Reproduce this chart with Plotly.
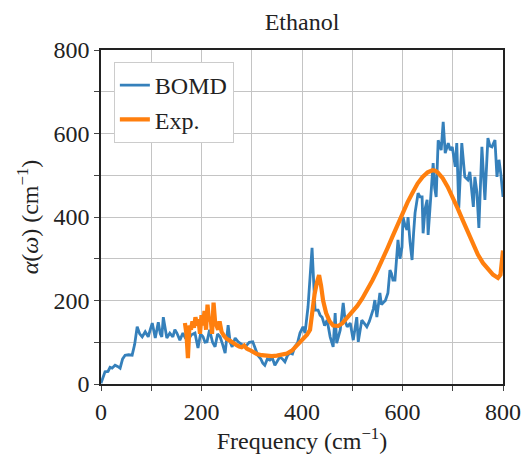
import plotly.graph_objects as go

# BOMD spectrum: frequency (cm^-1) and absorption alpha (cm^-1)
bomd_freq = [0, 4, 8, 14, 18, 22, 28, 33, 38, 43, 48, 55, 62, 67, 72, 77, 82, 88, 94, 98,
             102, 108, 114, 118, 121, 124, 128, 131, 137, 143, 147, 151, 157, 163, 168, 173,
             180, 187, 193, 198, 203, 207, 211, 216, 222, 227, 232, 237, 242, 247, 253, 257,
             261, 267, 273, 280, 287, 295, 302, 307, 312, 318, 322, 326, 331, 336, 341, 346,
             351, 356, 361, 366, 371, 376, 381, 386, 391, 396, 402, 406, 412, 416, 420, 423,
             426, 432, 436, 440, 445, 450, 456, 462, 466, 469, 473, 476, 482, 486, 490, 496,
             502, 509, 512, 516, 519, 524, 529, 534, 539, 542, 545, 549, 555, 558, 561, 566,
             571, 575, 578, 581, 585, 589, 591, 595, 599, 601, 605, 609, 611, 615, 619, 622,
             625, 631, 635, 639, 641, 645, 649, 651, 655, 661, 664, 667, 671, 677, 681, 685,
             691, 695, 699, 705, 708, 712, 718, 724, 730, 734, 741, 744, 748, 752, 758, 764,
             770, 774, 778, 784, 788, 792, 796, 800]
bomd_alpha = [2, 18, 29, 30, 40, 38, 45, 42, 38, 60, 69, 70, 69, 95, 137, 120, 113, 125, 113, 130,
              146, 110, 148, 120, 113, 160, 125, 110, 122, 113, 130, 122, 105, 122, 110, 105,
              118, 122, 86, 120, 113, 100, 101, 130, 100, 89, 120, 113, 95, 74, 141, 100,
              89, 110, 101, 95, 89, 100, 101, 85, 69, 60, 50, 45, 60, 57, 62, 45,
              55, 65, 60, 53, 68, 74, 72, 90, 98, 122, 137, 122, 185, 260, 326, 250,
              177, 177, 165, 160, 140, 153, 113, 89, 170, 98, 115, 129, 194, 150, 137, 146,
              105, 160, 101, 130, 153, 145, 137, 150, 170, 180, 201, 160, 218, 190, 194, 200,
              218, 273, 265, 249, 249, 321, 345, 300, 328, 400, 380, 369, 400, 340, 297, 360,
              410, 457, 448, 448, 361, 420, 441, 357, 420, 529, 470, 448, 584, 560, 628, 553,
              577, 560, 568, 520, 577, 421, 577, 496, 489, 508, 424, 496, 460, 374, 568, 441,
              589, 570, 568, 584, 496, 537, 500, 448]

# Experimental spectrum
exp_freq = [167, 170, 173, 176, 179, 182, 185, 188, 191, 194, 197, 200, 203, 206, 209, 212,
            215, 218, 221, 224, 227, 230, 233, 236, 240, 245, 250, 255, 260, 265, 270, 275,
            280, 285, 290, 295, 300, 310, 320, 330, 340, 350, 360, 370, 380, 390, 400, 410,
            416, 420, 425, 430, 434, 438, 442, 448, 455, 462, 472, 480, 490, 500, 510, 520,
            530, 540, 550, 560, 570, 580, 590, 600, 610, 620, 630, 640, 650, 660, 665, 670,
            680, 690, 700, 710, 720, 730, 740, 750, 760, 770, 780, 790, 795, 800]
exp_alpha = [146, 120, 62, 140, 130, 150, 135, 160, 140, 155, 120, 165, 140, 175, 130, 190,
             150, 160, 120, 195, 150, 140, 130, 150, 125, 115, 108, 105, 100, 95, 93, 90,
             88, 92, 85, 82, 78, 72, 69, 67, 67, 68, 70, 73, 80, 92, 105, 118,
             130, 175, 215, 245, 261, 235, 200, 170, 150, 140, 139, 145, 158, 172, 187, 205,
             225, 248, 272, 297, 325, 353, 382, 408, 435, 458, 480, 496, 507, 512, 511, 507,
             493, 472, 448, 420, 392, 365, 338, 310, 290, 275, 262, 254, 262, 320]

# Labelled ticks every 200, unlabelled ticks + grid lines in between
major_ticks = [0, 200, 400, 600, 800]
minor_ticks = [100, 300, 500, 700]

FONT = "Liberation Serif"
SIZE = 24
GRID = "#c4c4c4"

fig = go.Figure()
fig.add_trace(go.Scatter(x=bomd_freq, y=bomd_alpha, mode="lines", name="BOMD",
                         line=dict(color="#3580bb", width=2.8)))
fig.add_trace(go.Scatter(x=exp_freq, y=exp_alpha, mode="lines", name="Exp.",
                         line=dict(color="#ff7f0e", width=4.2)))

axis_common = dict(
    range=[0, 800], tickvals=major_ticks,
    ticks="outside", ticklen=5, tickcolor="#444", tickwidth=1,
    minor=dict(tickvals=minor_ticks, ticks="outside", ticklen=5, tickcolor="#444",
               tickwidth=1, showgrid=True, gridcolor=GRID, gridwidth=1),
    showline=True, mirror=True, linecolor="#222", linewidth=1.5,
    showgrid=True, gridcolor=GRID, gridwidth=1, zeroline=False,
    automargin=False,
    tickfont=dict(family=FONT, size=SIZE, color="#222"),
)

fig.update_layout(
    width=524, height=454,
    margin=dict(l=101, r=21, t=50, b=70, autoexpand=False),
    paper_bgcolor="white", plot_bgcolor="white",
    font=dict(family=FONT, size=SIZE, color="#222"),
    title=dict(text="Ethanol", x=0.5, xref="paper", y=1 - 22 / 454, yref="container",
               yanchor="middle", font=dict(family=FONT, size=SIZE, color="#222")),
    xaxis=dict(**axis_common,
               title=dict(text="Frequency (cm<sup>−1</sup>)", standoff=8,
                          font=dict(family=FONT, size=SIZE, color="#222"))),
    yaxis=dict(**axis_common,
               title=dict(text="<i>α</i>(<i>ω</i>) (cm<sup>−1</sup>)", standoff=8,
                          font=dict(family=FONT, size=SIZE, color="#222"))),
    legend=dict(x=0.032, y=0.964, xanchor="left", yanchor="top",
                bgcolor="white", bordercolor="#cccccc", borderwidth=1,
                font=dict(family=FONT, size=SIZE, color="#222"),
                tracegroupgap=0, itemwidth=30),
    showlegend=True,
)

fig.write_html("out.html")
